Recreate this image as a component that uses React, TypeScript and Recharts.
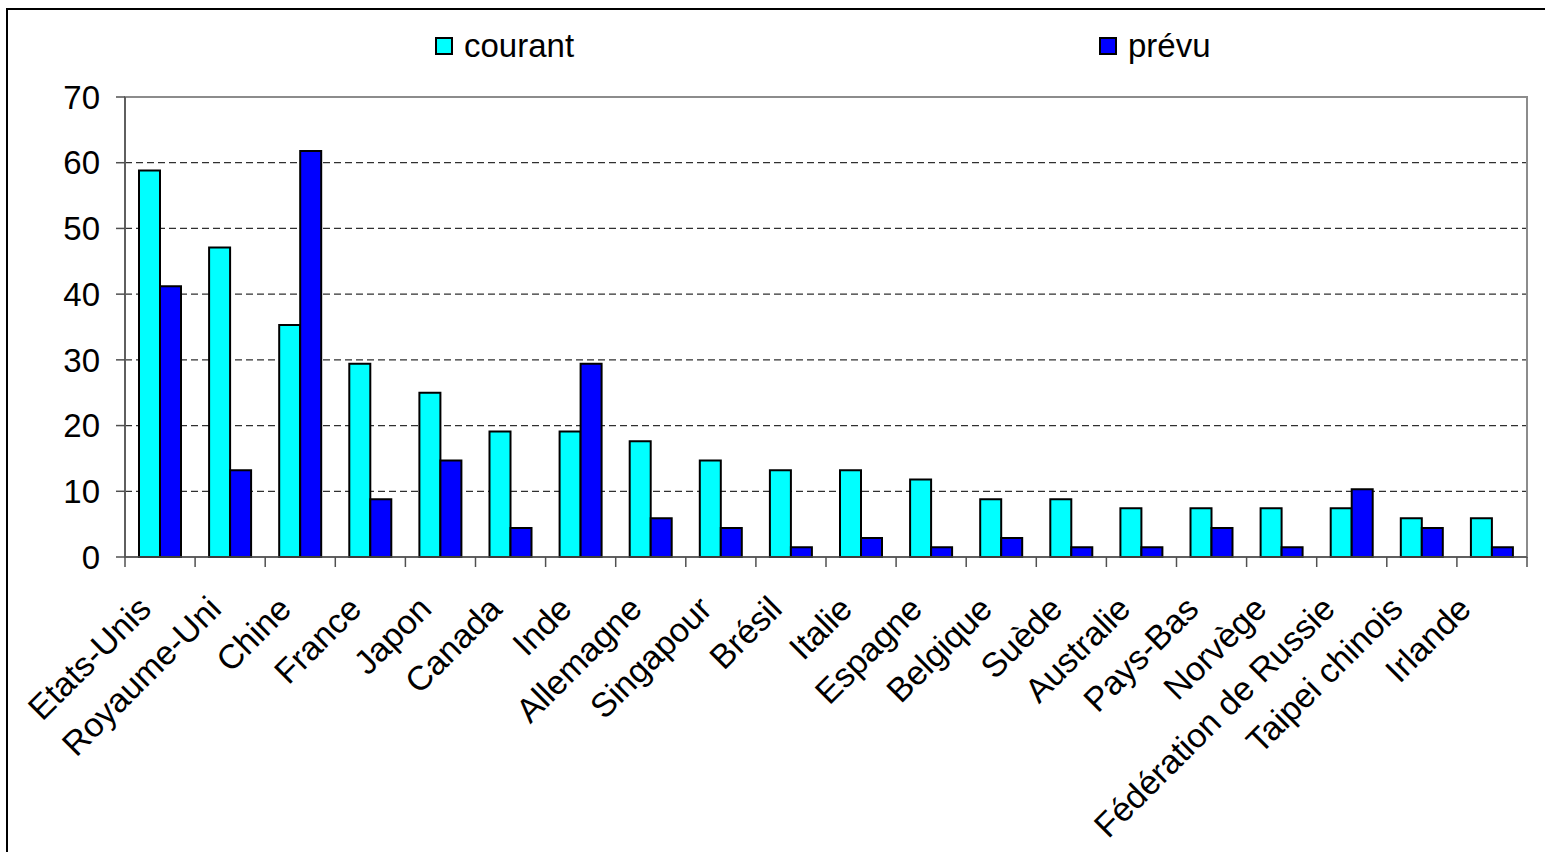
import React from 'react';
import { BarChart, Bar, XAxis, YAxis, CartesianGrid, Legend, ReferenceArea } from 'recharts';

// Pays, dans l'ordre du graphique
const countries = [
  'Etats-Unis', 'Royaume-Uni', 'Chine', 'France', 'Japon', 'Canada', 'Inde',
  'Allemagne', 'Singapour', 'Brésil', 'Italie', 'Espagne', 'Belgique', 'Suède',
  'Australie', 'Pays-Bas', 'Norvège', 'Fédération de Russie', 'Taipei chinois', 'Irlande',
];

const courant = [58.8, 47.1, 35.3, 29.4, 25.0, 19.1, 19.1, 17.6, 14.7, 13.2, 13.2, 11.8, 8.8, 8.8, 7.4, 7.4, 7.4, 7.4, 5.9, 5.9];
const prevu = [41.2, 13.2, 61.8, 8.8, 14.7, 4.4, 29.4, 5.9, 4.4, 1.5, 2.9, 1.5, 2.9, 1.5, 1.5, 4.4, 1.5, 10.3, 4.4, 1.5];

const yTicks = [0, 10, 20, 30, 40, 50, 60, 70];
const gridValues = [10, 20, 30, 40, 50, 60];

const data = countries.map((country, i) => ({
  country,
  courant: courant[i],
  prevu: prevu[i],
}));

const FONT = '"Liberation Sans", Arial, sans-serif';
const AXIS_COLOR = '#505050';
const BORDER_COLOR = '#8c8c8c';

// x tick: rotated label + tick marks on the category boundaries (Excel style)
const CountryTick = (props: any) => {
  const { x, y, payload, index } = props;
  const half = payload?.offset ?? 35;
  const shift = -7 + Math.min(0, (13 - index) * 2);
  const last = index === countries.length - 1;
  return (
    <g>
      <line x1={x - half} y1={y - 10} x2={x - half} y2={y} stroke={AXIS_COLOR} strokeWidth={1.5} />
      {last && (
        <line x1={x + half} y1={y - 10} x2={x + half} y2={y} stroke={AXIS_COLOR} strokeWidth={1.5} />
      )}
      <g transform={`translate(${x + shift},${y + 44}) rotate(-45)`}>
        <text textAnchor="end" fontSize={34} fontFamily={FONT} fill="#000">
          {payload.value}
        </text>
      </g>
    </g>
  );
};

const LegendBox = () => (
  <div style={{ position: 'relative', height: 40, fontFamily: FONT, fontSize: 33 }}>
    {[
      { label: 'courant', color: '#00ffff', left: 435 },
      { label: 'prévu', color: '#0000ff', left: 1099 },
    ].map((item) => (
      <div
        key={item.label}
        style={{ position: 'absolute', left: item.left, top: 0, height: 40, display: 'flex', alignItems: 'center' }}
      >
        <span
          style={{
            display: 'inline-block',
            width: 18,
            height: 18,
            boxSizing: 'border-box',
            border: '2px solid #000',
            background: item.color,
            marginRight: 11,
          }}
        />
        <span style={{ lineHeight: '40px', color: '#000' }}>{item.label}</span>
      </div>
    ))}
  </div>
);

export default function App() {
  return (
    <div style={{ position: 'absolute', left: 0, top: 0, width: 1545, height: 852, overflow: 'hidden', background: '#fff' }}>
      <div
        style={{
          position: 'absolute',
          left: 6,
          top: 8,
          width: 1600,
          height: 900,
          border: '2px solid #000',
          boxSizing: 'border-box',
        }}
      />
      <div style={{ position: 'absolute', left: 0, top: 0 }}>
        <BarChart
          width={1545}
          height={852}
          data={data}
          margin={{ top: 57, right: 18, bottom: 235, left: 0 }}
          barGap={0}
          barSize={21}
        >
          <CartesianGrid
            vertical={false}
            horizontalValues={gridValues}
            stroke="#303030"
            strokeWidth={1.2}
            strokeDasharray="7 4"
          />
          {/* plot area frame (top and right edges show in grey) */}
          <ReferenceArea y1={0} y2={70} fill="none" stroke={BORDER_COLOR} strokeWidth={2} />
          <Legend verticalAlign="top" wrapperStyle={{ top: 26, left: 0 }} content={() => <LegendBox />} />
          <XAxis
            dataKey="country"
            interval={0}
            height={60}
            tickSize={10}
            tickMargin={0}
            tickLine={false}
            tick={<CountryTick />}
            axisLine={{ stroke: AXIS_COLOR, strokeWidth: 1.5 }}
          />
          <YAxis
            domain={[0, 70]}
            ticks={yTicks}
            width={125}
            tickSize={9}
            tickMargin={16}
            axisLine={{ stroke: AXIS_COLOR, strokeWidth: 1.5 }}
            tickLine={{ stroke: AXIS_COLOR, strokeWidth: 1.5 }}
            tick={{ fontSize: 33, fontFamily: FONT, fill: '#000' }}
          />
          <Bar dataKey="courant" name="courant" fill="#00ffff" stroke="#000" strokeWidth={2} isAnimationActive={false} />
          <Bar dataKey="prevu" name="prévu" fill="#0000ff" stroke="#000" strokeWidth={2} isAnimationActive={false} />
        </BarChart>
      </div>
    </div>
  );
}
